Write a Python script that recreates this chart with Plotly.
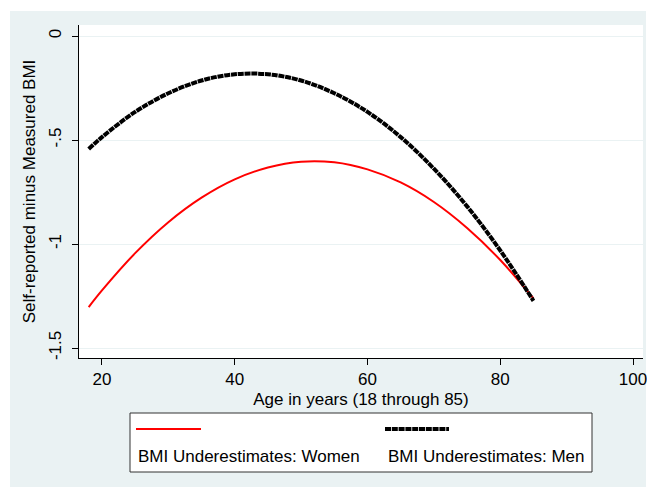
import plotly.graph_objects as go

# Data
ages = [18, 20, 25, 30, 35, 40, 45, 50, 55, 60, 65, 70, 75, 80, 85]
women = [-1.303, -1.223, -1.044, -0.895, -0.777, -0.689, -0.632, -0.604,
         -0.607, -0.641, -0.704, -0.798, -0.923, -1.077, -1.262]
men = [-0.543, -0.486, -0.365, -0.275, -0.214, -0.184, -0.184, -0.214,
       -0.275, -0.365, -0.486, -0.638, -0.819, -1.031, -1.273]
series_names = ["BMI Underestimates: Women", "BMI Underestimates: Men"]
x_ticks = [20, 40, 60, 80, 100]
y_ticks = [0, -0.5, -1, -1.5]
y_tick_text = ["0", "-.5", "-1", "-1.5"]

BG = "#EAF2F3"
FONT = "Liberation Sans, Arial, sans-serif"
MEN_DASH = "6px,0.8px"

fig = go.Figure()
fig.add_trace(go.Scatter(x=ages, y=women, mode="lines", name=series_names[0],
                         line=dict(color="#FF0000", width=2, shape="spline"),
                         showlegend=False))
fig.add_trace(go.Scatter(x=ages, y=men, mode="lines", name=series_names[1],
                         line=dict(color="#000000", width=4, shape="spline", dash=MEN_DASH),
                         showlegend=False))

# body margin removed via post_script, so figure sits at page origin
W, H = 647, 487
L, R, T, B = 79, 4, 25, 129
pw, ph = W - L - R, H - T - B

def px(x):
    return (x - L) / pw

def py(y):
    return (H - B - y) / ph

shapes = [
    dict(type="rect", xref="paper", yref="paper", x0=px(0), x1=px(10), y0=py(500), y1=py(0),
         fillcolor="white", line=dict(width=0), layer="below"),
    dict(type="rect", xref="paper", yref="paper", x0=px(0), x1=px(660), y0=py(11), y1=py(0),
         fillcolor="white", line=dict(width=0), layer="below"),
    dict(type="rect", xref="paper", yref="paper", x0=px(646), x1=px(660), y0=py(500), y1=py(0),
         fillcolor="white", line=dict(width=0), layer="below"),
    # legend box
    dict(type="rect", xref="paper", yref="paper", x0=px(130), x1=px(592), y0=py(472), y1=py(413),
         fillcolor="white", line=dict(color="#333333", width=1)),
    dict(type="line", xref="paper", yref="paper", x0=px(136), x1=px(201), y0=py(429), y1=py(429),
         line=dict(color="#FF0000", width=2)),
    dict(type="line", xref="paper", yref="paper", x0=px(385), x1=px(449), y0=py(429), y1=py(429),
         line=dict(color="#000000", width=4, dash=MEN_DASH)),
]

annotations = [
    dict(text=series_names[0], xref="paper", yref="paper", x=px(136), y=py(456.5),
         xanchor="left", yanchor="middle", showarrow=False,
         font=dict(family=FONT, size=17, color="black")),
    dict(text=series_names[1], xref="paper", yref="paper", x=px(386), y=py(456.5),
         xanchor="left", yanchor="middle", showarrow=False,
         font=dict(family=FONT, size=17, color="black")),
]

fig.update_layout(
    width=W, height=H,
    margin=dict(l=L, r=R, t=T, b=B, pad=0),
    paper_bgcolor=BG, plot_bgcolor="white",
    font=dict(family=FONT, size=17, color="black"),
    shapes=shapes, annotations=annotations,
    showlegend=False,
    xaxis=dict(range=[16.54, 101.5], tickvals=x_ticks, ticks="outside", ticklen=6,
               tickcolor="black", showline=True, linecolor="black", linewidth=1,
               showgrid=False, zeroline=False, ticklabeloverflow="allow",
               automargin=False,
               title=dict(text="Age in years (18 through 85)", standoff=4,
                          font=dict(size=17))),
    yaxis=dict(range=[-1.548, 0.053], tickvals=y_ticks, ticktext=y_tick_text,
               tickangle=-90, ticks="outside", ticklen=6, tickcolor="black",
               showline=True, linecolor="black", linewidth=1, ticklabelstandoff=4,
               showgrid=True, gridcolor=BG, gridwidth=1, zeroline=False,
               automargin=False,
               title=dict(text="Self-reported minus Measured BMI", standoff=6,
                          font=dict(size=17))),
)

fig.write_html(
    "out.html",
    config={"displayModeBar": False},
    post_script="document.body.style.margin='0';document.body.style.overflow='hidden';",
)
